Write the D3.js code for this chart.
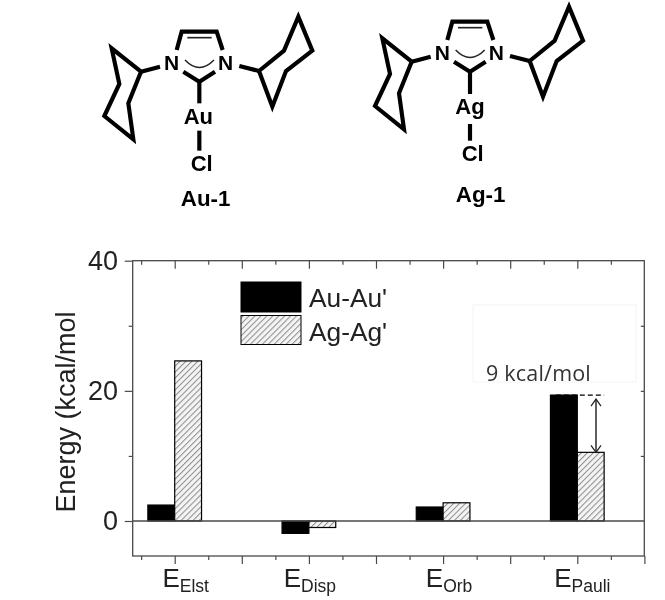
<!DOCTYPE html>
<html><head><meta charset="utf-8">
<script src="https://cdnjs.cloudflare.com/ajax/libs/d3/7.8.5/d3.min.js"></script>
<style>html,body{margin:0;padding:0;background:#fff}svg{display:block}text{font-family:"Liberation Sans",Arial,sans-serif}</style>
</head><body><svg id="c" width="665" height="600"></svg>
<script>
const categories = ["Elst","Disp","Orb","Pauli"];
const seriesNames = ["Au-Au'","Ag-Ag'"];
const auValues = [2.45,-1.9,2.15,19.35];
const agValues = [24.6,-1.0,2.8,10.55];
const yMajorTicks = [0,20,40];
const yMinorTicks = [10,30];
const gapLabel = "9 kcal/mol";
const yTitle = "Energy (kcal/mol";

const INK="#4a4a4a", svg=d3.select("#c");
const defs=svg.append("defs");
const pat=defs.append("pattern").attr("id","hatch").attr("patternUnits","userSpaceOnUse")
  .attr("width",4.2).attr("height",4.2).attr("patternTransform","rotate(45)");
pat.append("rect").attr("width",4.2).attr("height",4.2).attr("fill","#f4f4f4");
pat.append("line").attr("x1",0).attr("x2",0).attr("y1",0).attr("y2",4.2).attr("stroke","#8c8c8c").attr("stroke-width",2);
defs.append("filter").attr("id","soft").append("feGaussianBlur").attr("stdDeviation",0.35);

// ---- plot geometry
const L=132.7,R=644.3,T=260.7,B=556;
const y=d3.scaleLinear().domain([0,40]).range([521,T]);
const xi=d3.scaleLinear().domain([0,3]).range([174.7,577.3]);
const barW=(xi(1)-xi(0))*0.2;
const plot=svg.append("g").attr("filter","url(#soft)");

// faint pasted box behind the label
plot.append("rect").attr("x",473).attr("y",305).attr("width",163).attr("height",77)
  .attr("fill","#fff").attr("stroke","#f3f3f3");

// bars
const series=[{vals:auValues,fill:"#000",off:-1},{vals:agValues,fill:"url(#hatch)",off:0}];
series.forEach(s=>{
  plot.append("g").selectAll("rect").data(s.vals).join("rect")
    .attr("x",(d,i)=>xi(i)+s.off*barW).attr("width",barW)
    .attr("y",d=>Math.min(y(d),y(0))).attr("height",d=>Math.abs(y(d)-y(0)))
    .attr("fill",s.fill).attr("stroke","#000").attr("stroke-width",1.2);
});

// axes
function style(g){g.selectAll(".domain").remove();g.selectAll("line").attr("stroke",INK).attr("stroke-width",1.2);g.selectAll("text").remove();return g;}
const halves=d3.range(0,4,0.5), quarters=d3.range(-0.25,3.5,0.5);
[[d3.axisBottom(xi).tickValues(halves).tickSize(8),B],[d3.axisBottom(xi).tickValues(quarters).tickSize(4),B],
 [d3.axisBottom(xi).tickValues(halves.slice(0,-1)).tickSize(8),T],[d3.axisBottom(xi).tickValues(quarters).tickSize(4),T]]
 .forEach(([a,p])=>plot.append("g").attr("transform",`translate(0,${p})`).call(a).call(style));
[[d3.axisLeft(y).tickValues(yMajorTicks).tickSize(8),L],[d3.axisLeft(y).tickValues(yMinorTicks).tickSize(4),L],
 [d3.axisLeft(y).tickValues(yMajorTicks.slice(1,2).concat(yMinorTicks)).tickSize(3.5),R]]
 .forEach(([a,p])=>plot.append("g").attr("transform",`translate(${p},0)`).call(a).call(style));
plot.append("rect").attr("x",L).attr("y",T).attr("width",R-L).attr("height",B-T)
  .attr("fill","none").attr("stroke",INK).attr("stroke-width",1.3);
plot.append("line").attr("x1",L).attr("x2",R).attr("y1",y(0)).attr("y2",y(0)).attr("stroke",INK).attr("stroke-width",1.3);

// tick labels
plot.append("g").selectAll("text").data(yMajorTicks).join("text")
  .attr("x",118).attr("y",d=>y(d)+9).attr("text-anchor","end").attr("font-size",27).attr("fill","#222").text(d=>d);
const catNudge=[11,1,6,5];
const cat=plot.append("g").selectAll("text").data(categories).join("text")
  .attr("x",(d,i)=>xi(i)+catNudge[i]).attr("y",587).attr("text-anchor","middle").attr("fill","#222").attr("font-size",26);
cat.append("tspan").text("E");
cat.append("tspan").attr("dy",5).attr("font-size",17.5).text(d=>d);
plot.append("text").attr("transform","translate(75,412) rotate(-90)").attr("text-anchor","middle")
  .attr("font-size",27).attr("fill","#222").text(yTitle);

// legend
const lg=plot.append("g");
seriesNames.forEach((n,i)=>{
  const top=282+i*33.5;
  lg.append("rect").attr("x",241).attr("y",top).attr("width",60).attr("height",i?29:30)
    .attr("fill",series[i].fill).attr("stroke","#000");
  lg.append("text").attr("x",309).attr("y",top+25).attr("font-size",26.3).attr("fill","#222").text(n);
});

// gap annotation
const pauli=3, ax=596, yTop=y(auValues[pauli])+4, yBot=y(agValues[pauli]);
plot.append("line").attr("x1",xi(pauli)-barW*0.8).attr("x2",xi(pauli)+barW).attr("y1",y(auValues[pauli])).attr("y2",y(auValues[pauli]))
  .attr("stroke","#000").attr("stroke-width",1.2).attr("stroke-dasharray","5 3");
plot.append("path").attr("fill","none").attr("stroke","#444").attr("stroke-width",1.7)
  .attr("d",d3.line()([[ax,yTop],[ax,yBot]]));
plot.append("path").attr("fill","none").attr("stroke","#222").attr("stroke-width",1.2)
  .attr("d",`M${ax-5},${yTop+7}L${ax},${yTop}L${ax+5},${yTop+7}M${ax-5},${yBot-7}L${ax},${yBot}L${ax+5},${yBot-7}`);
plot.append("text").attr("x",486).attr("y",381).style("font-family","'Open Sans'").style("letter-spacing","0.2px").attr("font-size",21.5).attr("fill","#333").text(gapLabel);

// ---- molecule line drawings (shared skeleton, reference-crop units = 3x px)
const skeleton=[
 [[240,200],[183,215]],
 [[183,215],[95,145],[118,252],[73,348],[160,418],[145,310],[183,215]],
 [[478,198],[537,213]],
 [[537,213],[612,152],[655,50],[697,152],[618,213],[577,320],[537,213]],
 [[290,150],[305,95],[410,95],[428,150]],
 [[310,215],[358,245],[405,215]]
];
function molecule(ox,oy,metal,bond1,bond2,lab){
  const g=svg.append("g").attr("transform",`translate(${ox},${oy}) scale(${1/3})`).attr("filter","url(#soft)");
  const ln=d3.line();
  const thick=(p)=>g.append("path").attr("d",ln(p)).attr("fill","none").attr("stroke","#000").attr("stroke-width",12.5).attr("stroke-linejoin","miter");
  skeleton.forEach(thick);
  thick(bond1);thick(bond2);
  g.append("path").attr("d",ln([[322,113],[395,113]])).attr("stroke","#222").attr("stroke-width",5);
  g.append("path").attr("d","M315,180Q358,225 402,180").attr("fill","none").attr("stroke","#222").attr("stroke-width",4.5);
  const t=(s,x,yy,fs)=>g.append("text").attr("x",x).attr("y",yy).attr("text-anchor","middle").attr("font-weight","bold").attr("font-size",fs).attr("fill","#000").text(s);
  t("N",275,210,63);t("N",437,210,63);
  t(metal,lab[0],372,66);t("Cl",lab[1],512,66);t(lab[3],lab[2],lab[4],67);
}
molecule(80,0,"Au",[[358,245],[358,310]],[[358,392],[358,452]],[355,365,377,"Au-1",618]);
molecule(350.67,-10,"Ag",[[358,245],[358,312]],[[358,402],[358,452]],[358,366,390,"Ag-1",636]);
</script></body></html>
